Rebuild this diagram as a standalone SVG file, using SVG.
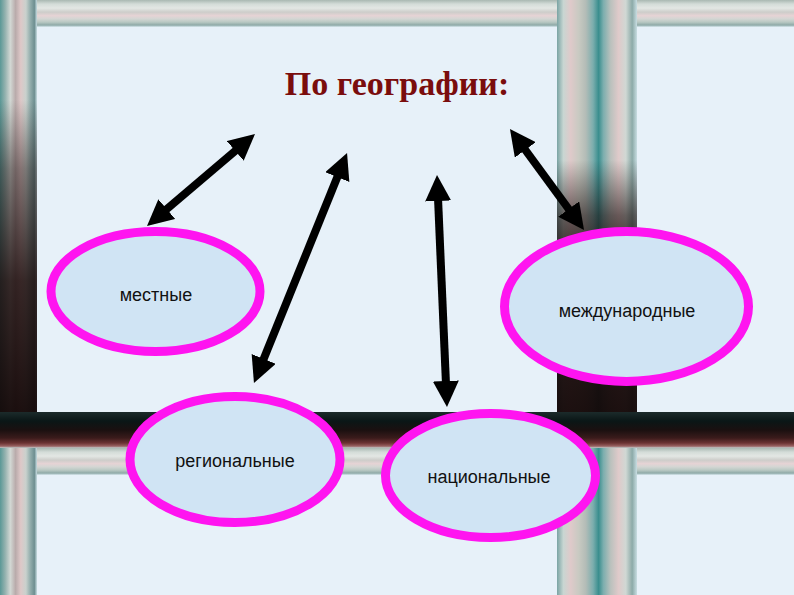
<svg xmlns="http://www.w3.org/2000/svg" width="794" height="595" viewBox="0 0 794 595">
<defs>
<style>
.panel{fill:#e7f1f9}
.node ellipse{fill:#d0e4f4;stroke:#ff14f0;stroke-width:9}
.node text{font-family:"Liberation Sans",Arial,sans-serif;font-size:18px;fill:#111;text-anchor:middle}
.conn line{stroke:#000;stroke-width:8;marker-start:url(#ah);marker-end:url(#ah)}
.title{font-family:"Liberation Serif","Times New Roman",serif;font-weight:bold;font-size:34px;fill:#7a0d0d;text-anchor:middle}
</style>
<marker id="ah" viewBox="0 0 26 26" markerWidth="26" markerHeight="26" refX="8" refY="13" orient="auto-start-reverse" markerUnits="userSpaceOnUse">
<path d="M0,0 L26,13 L0,26 z" fill="#000"/>
</marker>
<linearGradient id="hband" x1="0" y1="0" x2="0" y2="1">
<stop offset="0" stop-color="#a9b8b2"/>
<stop offset="0.15" stop-color="#d4dcd8"/>
<stop offset="0.3" stop-color="#e3e7e4"/>
<stop offset="0.45" stop-color="#cdcdca"/>
<stop offset="0.58" stop-color="#e6d3d5"/>
<stop offset="0.7" stop-color="#d3d6d3"/>
<stop offset="0.82" stop-color="#b9c8c3"/>
<stop offset="0.93" stop-color="#8ea9a7"/>
<stop offset="1" stop-color="#d8e8ee"/>
</linearGradient>
<linearGradient id="lband" x1="0" y1="0" x2="1" y2="0">
<stop offset="0" stop-color="#5a9896"/>
<stop offset="0.14" stop-color="#94b2af"/>
<stop offset="0.28" stop-color="#d2d8d4"/>
<stop offset="0.42" stop-color="#b9abab"/>
<stop offset="0.56" stop-color="#dec8c8"/>
<stop offset="0.7" stop-color="#c9d1cd"/>
<stop offset="0.82" stop-color="#92adac"/>
<stop offset="0.93" stop-color="#6e8f91"/>
<stop offset="1" stop-color="#c8dde2"/>
</linearGradient>
<linearGradient id="mband" x1="0" y1="0" x2="1" y2="0">
<stop offset="0" stop-color="#7aa4a4"/>
<stop offset="0.08" stop-color="#c8d6d2"/>
<stop offset="0.17" stop-color="#dfcaca"/>
<stop offset="0.27" stop-color="#c9cac2"/>
<stop offset="0.36" stop-color="#b3bcb7"/>
<stop offset="0.45" stop-color="#7caeae"/>
<stop offset="0.52" stop-color="#3a8e8e"/>
<stop offset="0.58" stop-color="#7caeae"/>
<stop offset="0.67" stop-color="#bac1bd"/>
<stop offset="0.77" stop-color="#dfcaca"/>
<stop offset="0.86" stop-color="#d0d8d4"/>
<stop offset="0.94" stop-color="#8caaa8"/>
<stop offset="1" stop-color="#c8dde2"/>
</linearGradient>
<linearGradient id="shadeL" gradientUnits="userSpaceOnUse" x1="0" y1="100" x2="0" y2="412">
<stop offset="0" stop-color="#1a0c0c" stop-opacity="0"/>
<stop offset="0.22" stop-color="#1a0c0c" stop-opacity="0.45"/>
<stop offset="0.58" stop-color="#1a0a0a" stop-opacity="0.85"/>
<stop offset="1" stop-color="#120606" stop-opacity="0.95"/>
</linearGradient>
<linearGradient id="shadeM" gradientUnits="userSpaceOnUse" x1="0" y1="160" x2="0" y2="412">
<stop offset="0" stop-color="#1a0c0c" stop-opacity="0"/>
<stop offset="0.22" stop-color="#1a0c0c" stop-opacity="0.6"/>
<stop offset="0.4" stop-color="#1a0a0a" stop-opacity="0.88"/>
<stop offset="1" stop-color="#120606" stop-opacity="0.95"/>
</linearGradient>
<linearGradient id="dband" x1="0" y1="0" x2="0" y2="1">
<stop offset="0" stop-color="#1c2b2b"/>
<stop offset="0.25" stop-color="#0a1616"/>
<stop offset="0.5" stop-color="#1a1010"/>
<stop offset="0.72" stop-color="#3a1b1b"/>
<stop offset="0.86" stop-color="#6a3232"/>
<stop offset="0.95" stop-color="#9a6262"/>
<stop offset="1" stop-color="#c0d0d0"/>
</linearGradient>
</defs>

<g id="background">
<rect x="0" y="0" width="794" height="595" fill="#c9d3d0"/>
<rect x="0" y="0" width="794" height="27" fill="url(#hband)"/>
<rect x="0" y="448" width="794" height="27" fill="url(#hband)"/>
<rect x="0" y="0" width="37" height="448" fill="url(#lband)"/>
<rect x="0" y="448" width="37" height="147" fill="url(#lband)"/>
<rect x="557" y="0" width="80" height="448" fill="url(#mband)"/>
<rect x="557" y="448" width="80" height="147" fill="url(#mband)"/>
<rect x="0" y="100" width="37" height="312" fill="url(#shadeL)"/>
<rect x="557" y="160" width="80" height="252" fill="url(#shadeM)"/>
<rect x="0" y="412" width="794" height="36" fill="url(#dband)"/>
<rect class="panel" x="37" y="27" width="520" height="385"/>
<rect class="panel" x="637" y="27" width="157" height="385"/>
<rect class="panel" x="37" y="475" width="520" height="120"/>
<rect class="panel" x="637" y="475" width="157" height="120"/>
</g>

<text class="title" x="397" y="95">По географии:</text>

<g id="connectors" class="conn">
<line x1="241.3" y1="145.7" x2="160.7" y2="214.3"/>
<line x1="340.3" y1="169.7" x2="260.7" y2="366.3"/>
<line x1="437.8" y1="193" x2="446.2" y2="389"/>
<line x1="520.6" y1="143.5" x2="573.4" y2="215.5"/>
</g>

<g id="node-local" class="node">
<ellipse cx="155.5" cy="291.5" rx="104.5" ry="60"/>
<text x="156" y="301">местные</text>
</g>
<g id="node-international" class="node">
<ellipse cx="626.5" cy="306.5" rx="122" ry="75"/>
<text x="627" y="317">международные</text>
</g>
<g id="node-regional" class="node">
<ellipse cx="235" cy="459.5" rx="105" ry="63"/>
<text x="235" y="467">региональные</text>
</g>
<g id="node-national" class="node">
<ellipse cx="490.5" cy="475.5" rx="105" ry="62"/>
<text x="489" y="483">национальные</text>
</g>
</svg>
